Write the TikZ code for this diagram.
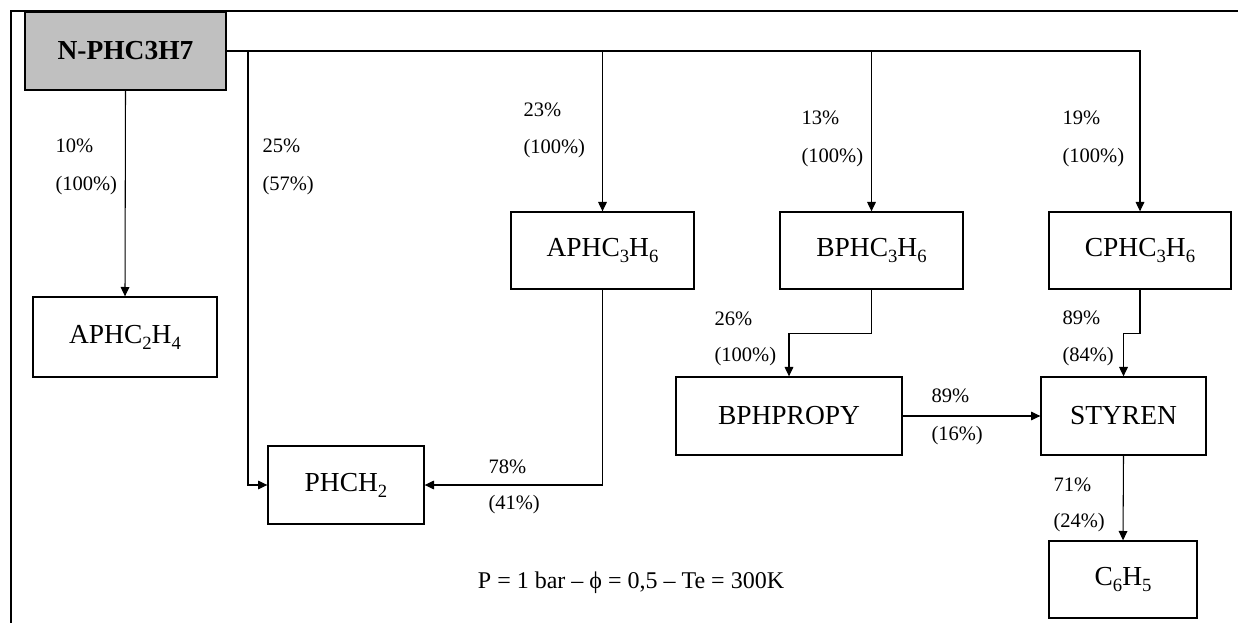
\documentclass[tikz,border=0pt]{standalone}
\usepackage{fontspec}
\setmainfont{Liberation Serif}
\usetikzlibrary{arrows.meta}

\newcommand{\lo}[1]{\raisebox{-4.5pt}{\fontsize{14}{14}\selectfont #1}}

\tikzset{every picture/.style={line width=0.75pt}}
\tikzset{
  box/.style={draw, line width=1pt, inner sep=0pt, font=\fontsize{20.6}{24}\selectfont},
  pct/.style={anchor=west, inner sep=0pt, font=\fontsize{15.4}{18}\selectfont},
  arr/.style={line width=0.8pt, -{Triangle[length=7pt,width=6.5pt]}}
}
\definecolor{boxgray}{RGB}{192,192,192}

\begin{document}
\begin{tikzpicture}[x=0.75pt,y=0.75pt,yscale=-1,xscale=1]
		\useasboundingbox (0,0) rectangle (1238,623);
		
		%Straight Lines (frame)
		\draw [line width=1.5pt] (11,623) -- (11,11) -- (1238,11) ;
		
		%Shape: Rectangle
		\node [box, fill=boxgray, minimum width=150.75pt, minimum height=58.5pt] (nph) at (125.5,51) {\bfseries N-PHC3H7};
		%Shape: Rectangle
		\node [box, minimum width=138pt, minimum height=60pt] (aph2) at (125,337) {APHC\lo{2}H\lo{4}\hspace{8pt}};
		%Shape: Rectangle
		\node [box, minimum width=137.25pt, minimum height=57.75pt] (aph3) at (602.5,250.5) {APHC\lo{3}H\lo{6}\hspace{6pt}};
		%Shape: Rectangle
		\node [box, minimum width=137.25pt, minimum height=57.75pt] (bph3) at (871.5,250.5) {BPHC\lo{3}H\lo{6}\hspace{6pt}};
		%Shape: Rectangle
		\node [box, minimum width=136.5pt, minimum height=57.75pt] (cph3) at (1140,250.5) {CPHC\lo{3}H\lo{6}\hspace{6pt}};
		%Shape: Rectangle
		\node [box, minimum width=169.5pt, minimum height=58.5pt] (bprop) at (789,416) {BPHPROPY\hspace{6pt}};
		%Shape: Rectangle
		\node [box, minimum width=123.75pt, minimum height=58.5pt] (styren) at (1123.5,416) {STYREN};
		%Shape: Rectangle
		\node [box, minimum width=117pt, minimum height=58.5pt] (phch2) at (346,485) {PHCH\lo{2}\hspace{8pt}};
		%Shape: Rectangle
		\node [box, minimum width=111pt, minimum height=57.75pt] (c6h5) at (1123,579.5) {C\lo{6}H\lo{5}};
		
		\coordinate (j1) at (248,51);
		
		%Straight Lines
		\draw [arr] (nph.south) -- (aph2.north) ;
		%Straight Lines
		\draw [arr] (nph.east) -| (cph3.north) ;
		%Straight Lines
		\draw [arr] (j1) |- (phch2.west) ;
		%Straight Lines
		\draw [arr] (nph.east -| aph3.north) -- (aph3.north) ;
		%Straight Lines
		\draw [arr] (nph.east -| bph3.north) -- (bph3.north) ;
		%Straight Lines
		\draw [arr] (aph3.south) |- (phch2.east) ;
		%Straight Lines
		\draw [arr] (bph3.south) -- ++(0,44) -| (bprop.north) ;
		%Straight Lines
		\draw [arr] (cph3.south) -- ++(0,44) -| (styren.north) ;
		%Straight Lines
		\draw [arr] (bprop.east) -- (styren.west) ;
		%Straight Lines
		\draw [arr] (styren.south) -- (c6h5.north) ;
		
		% Text Node
		\node [pct] (p1a) at (55,146) {10\%};
		\node [pct] (p1b) at (55,186) {(100\%)};
		% Text Node
		\node [pct] (p2a) at (262,146) {25\%};
		\node [pct] (p2b) at (262,186) {(57\%)};
		% Text Node
		\node [pct] (p3a) at (523,110) {23\%};
		\node [pct] (p3b) at (523,149) {(100\%)};
		% Text Node
		\node [pct] (p4a) at (801,118) {13\%};
		\node [pct] (p4b) at (801,158) {(100\%)};
		% Text Node
		\node [pct] (p5a) at (1062,118) {19\%};
		\node [pct] (p5b) at (1062,158) {(100\%)};
		% Text Node
		\node [pct] (p6a) at (714,319) {26\%};
		\node [pct] (p6b) at (714,357) {(100\%)};
		% Text Node
		\node [pct] (p7a) at (1062,318) {89\%};
		\node [pct] (p7b) at (1062,357) {(84\%)};
		% Text Node
		\node [pct] (p8a) at (931,396) {89\%};
		\node [pct] (p8b) at (931,436) {(16\%)};
		% Text Node
		\node [pct] (p9a) at (488,467) {78\%};
		\node [pct] (p9b) at (488,505) {(41\%)};
		% Text Node
		\node [pct] (p10a) at (1053,485) {71\%};
		\node [pct] (p10b) at (1053,523) {(24\%)};
		% Text Node
		\node [inner sep=0pt, font=\fontsize{18}{21}\selectfont] (cond) at (631,583) {P = 1 bar – ϕ = 0,5 – Te = 300K};
		
\end{tikzpicture}
\end{document}
